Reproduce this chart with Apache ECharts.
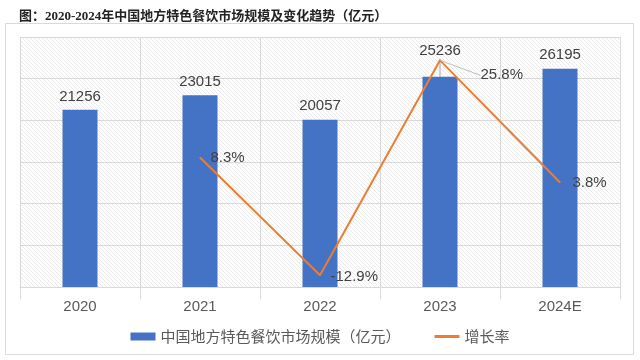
<!DOCTYPE html>
<html><head><meta charset="utf-8">
<script src="https://cdn.jsdelivr.net/npm/echarts@6/dist/echarts.min.js"></script>
<style>html,body{margin:0;padding:0;background:#fff}#c{width:640px;height:360px}</style>
</head><body><div id="c"></div>
<script>
const categories = ['2020','2021','2022','2023','2024E'];
const marketSize = [21256, 23015, 20057, 25236, 26195];
const growthRate = [null, 8.3, -12.9, 25.8, 3.8];
const titleText = '图：2020-2024年中国地方特色餐饮市场规模及变化趋势（亿元）';
const barName = '中国地方特色餐饮市场规模（亿元）';
const lineName = '增长率';

// hatch pattern
const pc = document.createElement('canvas');
pc.width = 4; pc.height = 4;
const g = pc.getContext('2d');
g.fillStyle = '#ffffff'; g.fillRect(0,0,4,4);
g.strokeStyle = '#ebebeb'; g.lineWidth = 1;
g.beginPath(); g.moveTo(0,0); g.lineTo(4,4); g.moveTo(-1,3); g.lineTo(1,5); g.moveTo(3,-1); g.lineTo(5,1); g.stroke();

const chart = echarts.init(document.getElementById('c'));
const lineDx = [0, 6, 6, 36, 8];
const lineDy = [0, 0, 2, 15, 0];
const barData = marketSize.map(function (v, i) {
  return { value: v, labelLine: { show: i === 3 } };
});
const lineData = growthRate.map(function (v, i) {
  return { value: v, labelLine: { show: i === 3 } };
});
chart.setOption({
  animation: false,
  title: { text: titleText, left: 14, top: 5,
    textStyle: { fontSize: 13, fontWeight: 'bold', color: '#222', fontFamily: '"Liberation Serif", "Noto Sans CJK SC", serif' } },
  graphic: [{ type: 'rect', shape: { x: 5.5, y: 23.5, width: 628, height: 331 }, style: { fill: 'none', stroke: '#d9d9d9', lineWidth: 1 }, z: -1 }],
  grid: { left: 20, right: 20, top: 37, bottom: 73, show: true, backgroundColor: { image: pc, repeat: 'repeat' }, borderWidth: 0 },
  legend: { bottom: 11, itemGap: 34, itemWidth: 25, itemHeight: 8,
    textStyle: { fontSize: 15, color: '#595959', fontFamily: '"Noto Sans CJK SC", sans-serif' },
    data: [{ name: barName, icon: 'rect' },
           { name: lineName, icon: 'path://M0,0H25V3H0Z', itemStyle: { color: '#ED7D31', opacity: 1 } }] },
  xAxis: { type: 'category', data: categories, boundaryGap: true,
    axisLine: { lineStyle: { color: '#d9d9d9' } },
    axisTick: { show: true, length: 12, lineStyle: { color: '#d9d9d9' } },
    splitLine: { show: true, lineStyle: { color: '#d9d9d9' } },
    axisLabel: { fontSize: 15, color: '#595959', margin: 12, fontFamily: 'Arial, "Liberation Sans", sans-serif' } },
  yAxis: [
    { type: 'value', min: 0, max: 30000, interval: 5000, axisLabel: { show: false }, axisLine: { show: false }, axisTick: { show: false },
      splitLine: { show: true, lineStyle: { color: '#d9d9d9' } } },
    { type: 'value', min: -15, max: 30, interval: 7.5, axisLabel: { show: false }, axisLine: { show: false }, axisTick: { show: false }, splitLine: { show: false } }
  ],
  series: [
    { name: barName, type: 'bar', data: barData, barWidth: 35, yAxisIndex: 0,
      itemStyle: { color: '#4472C4' },
      label: { show: true, position: 'top', distance: 6, fontSize: 15, color: '#404040', fontFamily: 'Arial, "Liberation Sans", sans-serif' },
      labelLine: { lineStyle: { color: '#a6a6a6', width: 1 } },
      labelLayout: function (p) { return p.dataIndex === 3 ? { dy: -12 } : {}; } },
    { name: lineName, type: 'line', data: lineData, yAxisIndex: 1, symbol: 'circle', symbolSize: 1, showSymbol: true, connectNulls: false,
      lineStyle: { color: '#ED7D31', width: 2 }, itemStyle: { color: '#ED7D31' },
      label: { show: true, position: 'right', distance: 4, fontSize: 15, color: '#404040', fontFamily: 'Arial, "Liberation Sans", sans-serif',
        formatter: function (p) { return p.value + '%'; } },
      labelLine: { lineStyle: { color: '#bfbfbf', width: 1 } },
      labelLayout: function (p) { return { dx: lineDx[p.dataIndex], dy: lineDy[p.dataIndex] }; } }
  ]
});
</script></body></html>
